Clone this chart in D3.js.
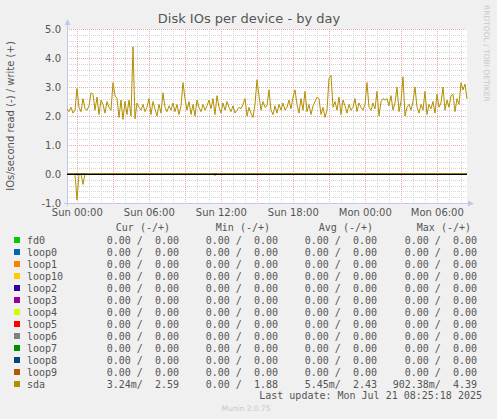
<!DOCTYPE html>
<html>
<head>
<meta charset="utf-8">
<script src="https://cdn.jsdelivr.net/npm/d3@7"></script>
<style>
  html, body { margin: 0; padding: 0; background: #f0f0f0; }
  svg { display: block; }
  text { white-space: pre; }
</style>
</head>
<body>
<script>
// ---- data ----------------------------------------------------------------
const title = "Disk IOs per device - by day";
const yLabel = "IOs/second read (-) / write (+)";
const windowStart = "2025-07-19T23:11:00Z";
const windowEnd = "2025-07-21T08:31:00Z";
const sampleStepMinutes = 10;

const xTickTimes = ["2025-07-20T00:00:00Z", "2025-07-20T06:00:00Z", "2025-07-20T12:00:00Z",
                    "2025-07-20T18:00:00Z", "2025-07-21T00:00:00Z", "2025-07-21T06:00:00Z"];
const xTickLabels = ["Sun 00:00", "Sun 06:00", "Sun 12:00", "Sun 18:00", "Mon 00:00", "Mon 06:00"];
const yTickValues = [-1, 0, 1, 2, 3, 4, 5];
const yTickLabels = ["-1.0", "0.0", "1.0", "2.0", "3.0", "4.0", "5.0"];

// sda writes per second, one sample every 10 minutes
const sdaWrite = [
  2.25, 2.15, 2.3, 2.1, 2.2, 2.95, 2.3, 2.15, 2.6, 2.25,
  2.2, 2.35, 2.8, 2.75, 2.2, 2.65, 2.05, 2.55, 2.4, 2.1,
  2.5, 2.3, 2.2, 3.15, 2.7, 2.6, 1.95, 2.55, 1.88, 2.5,
  2.05, 2.55, 2.0, 4.39, 1.9, 2.45, 2.3, 2.2, 2.4, 2.15,
  2.3, 2.6, 2.05, 2.5, 2.25, 2.0, 2.4, 2.1, 2.8, 2.3,
  2.15, 2.35, 2.2, 2.45, 2.15, 2.4, 2.05, 2.35, 3.15, 2.6,
  2.2, 2.5, 2.05, 2.4, 2.0, 2.55, 2.3, 2.15, 2.4, 2.2,
  2.35, 2.55, 2.25, 2.6, 2.05, 2.7, 2.3, 2.1, 2.45, 2.2,
  2.5, 2.3, 2.15, 2.35, 2.1, 2.2, 2.3, 2.25, 2.4, 2.6,
  2.0, 2.3, 2.1, 1.95, 2.4, 3.25, 2.7, 2.2, 2.5, 2.3,
  2.35, 2.9, 2.2, 2.05, 2.35, 2.1, 2.4, 2.2, 2.45, 2.2,
  2.3, 2.55, 2.25, 2.65, 2.9, 2.4, 2.1, 2.6, 2.2, 2.85,
  2.15, 2.4, 2.05, 2.35, 2.5, 2.65, 2.6, 2.05, 2.3, 1.95,
  2.2, 3.3, 3.4, 2.3, 2.5, 2.2, 2.65, 2.05, 2.55, 2.35,
  2.1, 2.4, 2.2, 2.3, 2.6, 2.15, 2.45, 2.3, 2.2, 2.4,
  3.15, 2.3, 2.2, 2.45, 2.25, 2.85, 2.0, 2.5, 2.6, 2.55,
  2.6, 2.35, 2.7, 2.2, 2.45, 3.0, 2.15, 2.5, 3.35, 2.0,
  2.3, 2.4, 2.2, 2.5, 3.0, 2.3, 2.1, 2.4, 2.2, 2.85,
  2.05, 2.4, 2.25, 2.5, 2.1, 2.75, 2.3, 2.45, 3.0, 2.2,
  2.55, 2.3, 2.7, 2.75, 2.15, 2.6, 2.4, 3.15, 2.9, 3.1,
  2.59
];

// sda reads per second (drawn below zero), same sampling
const sdaRead = [
  0, 0, 0, 0, 0, 0.9, 0, 0, 0.36, 0
].concat(new Array(64).fill(0), [0.05], new Array(126).fill(0));

const devices = ["fd0", "loop0", "loop1", "loop10", "loop2", "loop3", "loop4",
                 "loop5", "loop6", "loop7", "loop8", "loop9", "sda"];
const deviceColors = ["#00CC00", "#0066B3", "#FF8000", "#FFCC00", "#330099", "#990099",
                      "#CCFF00", "#FF0000", "#808080", "#008F00", "#00487D", "#B35A00", "#B38F00"];

const columnHeaders = ["Cur (-/+)", "Min (-/+)", "Avg (-/+)", "Max (-/+)"];
const curRead  = [0,0,0,0,0,0,0,0,0,0,0,0, 0.00324];
const curWrite = [0,0,0,0,0,0,0,0,0,0,0,0, 2.59];
const minRead  = [0,0,0,0,0,0,0,0,0,0,0,0, 0];
const minWrite = [0,0,0,0,0,0,0,0,0,0,0,0, 1.88];
const avgRead  = [0,0,0,0,0,0,0,0,0,0,0,0, 0.00545];
const avgWrite = [0,0,0,0,0,0,0,0,0,0,0,0, 2.43];
const maxRead  = [0,0,0,0,0,0,0,0,0,0,0,0, 0.90238];
const maxWrite = [0,0,0,0,0,0,0,0,0,0,0,0, 4.39];

const lastUpdate = "Last update: Mon Jul 21 08:25:18 2025";
const version = "Munin 2.0.75";
const watermark = "RRDTOOL / TOBI OETIKER";

// ---- drawing ---------------------------------------------------------------
const W = 497, H = 419;
const plot = { left: 67, right: 467, top: 29, bottom: 203 };
const sans = "'DejaVu Sans', sans-serif";
const mono = "'DejaVu Sans Mono', monospace";
const textColor = "#555";

const svg = d3.select("body").append("svg").attr("width", W).attr("height", H);
svg.append("rect").attr("width", W).attr("height", H).attr("fill", "#f0f0f0");

const t0 = new Date(windowStart), t1 = new Date(windowEnd);
const x = d3.scaleUtc().domain([t0, t1]).range([plot.left, plot.right]);
const y = d3.scaleLinear().domain([-1, 5]).range([plot.bottom, plot.top]);

const timeAt = i => new Date(t0.getTime() + i * sampleStepMinutes * 60000);

svg.append("rect")
  .attr("x", plot.left).attr("y", plot.top)
  .attr("width", plot.right - plot.left).attr("height", plot.bottom - plot.top)
  .attr("fill", "#ffffff");

const grid = svg.append("g").attr("shape-rendering", "crispEdges");

// minor grid
const minorY = d3.range(-1, 5.001, 0.2).filter(v => Math.abs(v - Math.round(v)) > 1e-6);
grid.selectAll(".ymin").data(minorY).join("line")
  .attr("x1", plot.left).attr("x2", plot.right)
  .attr("y1", d => Math.round(y(d)) + 0.5).attr("y2", d => Math.round(y(d)) + 0.5)
  .attr("stroke", "#d4d4d4").attr("stroke-dasharray", "1,1");
const hours = d3.utcHour.range(t0, t1).filter(d => d.getUTCHours() % 3 !== 0);
grid.selectAll(".xmin").data(hours).join("line")
  .attr("x1", d => Math.round(x(d)) + 0.5).attr("x2", d => Math.round(x(d)) + 0.5)
  .attr("y1", plot.top).attr("y2", plot.bottom)
  .attr("stroke", "#d4d4d4").attr("stroke-dasharray", "1,1");

// major grid
grid.selectAll(".ymaj").data(yTickValues).join("line")
  .attr("x1", plot.left).attr("x2", plot.right)
  .attr("y1", d => Math.round(y(d)) + 0.5).attr("y2", d => Math.round(y(d)) + 0.5)
  .attr("stroke", "#eaa8a8").attr("stroke-dasharray", "1,1");
const majorHours = d3.utcHour.range(t0, t1).filter(d => d.getUTCHours() % 3 === 0);
grid.selectAll(".xmaj").data(majorHours).join("line")
  .attr("x1", d => Math.round(x(d)) + 0.5).attr("x2", d => Math.round(x(d)) + 0.5)
  .attr("y1", plot.top).attr("y2", plot.bottom)
  .attr("stroke", "#eaa8a8").attr("stroke-dasharray", "1,1");

// axes lines with arrows
const axisColor = "#c6c6ea";
svg.append("line").attr("x1", plot.left + 0.5).attr("x2", plot.left + 0.5)
  .attr("y1", plot.bottom + 3).attr("y2", plot.top - 6)
  .attr("stroke", axisColor).attr("shape-rendering", "crispEdges");
svg.append("path")
  .attr("d", `M${plot.left - 2.5},${plot.top - 4} L${plot.left + 3.5},${plot.top - 4} L${plot.left + 0.5},${plot.top - 10} Z`)
  .attr("fill", axisColor);
svg.append("line").attr("x1", plot.left - 3).attr("x2", plot.right + 3)
  .attr("y1", plot.bottom + 0.5).attr("y2", plot.bottom + 0.5)
  .attr("stroke", axisColor).attr("shape-rendering", "crispEdges");
svg.append("path")
  .attr("d", `M${plot.right + 1},${plot.bottom - 2.5} L${plot.right + 1},${plot.bottom + 3.5} L${plot.right + 7},${plot.bottom + 0.5} Z`)
  .attr("fill", axisColor);

// tick labels via d3 axes
const yAxis = d3.axisLeft(y).tickValues(yTickValues)
  .tickFormat((d, i) => yTickLabels[i]).tickSize(0).tickPadding(6);
const yg = svg.append("g").attr("transform", `translate(${plot.left},0)`).call(yAxis);
yg.select(".domain").remove();
yg.selectAll("text").attr("font-family", sans).attr("font-size", 10).attr("fill", textColor);

const xAxis = d3.axisBottom(x).tickValues(xTickTimes.map(s => new Date(s)))
  .tickFormat((d, i) => xTickLabels[i]).tickSize(0).tickPadding(5.5);
const xg = svg.append("g").attr("transform", `translate(0,${plot.bottom})`).call(xAxis);
xg.select(".domain").remove();
xg.selectAll("text").attr("font-family", sans).attr("font-size", 10).attr("fill", textColor);

// series
const lineGen = d3.line().x((d, i) => x(timeAt(i))).y(d => y(d));
const clip = svg.append("clipPath").attr("id", "plotclip").append("rect")
  .attr("x", plot.left).attr("y", plot.top - 20)
  .attr("width", plot.right - plot.left + 1).attr("height", plot.bottom - plot.top + 20);
const series = svg.append("g").attr("clip-path", "url(#plotclip)");

devices.forEach((dev, k) => {
  if (dev === "sda") return;
  const zeros = new Array(sdaWrite.length).fill(0);
  series.append("path").datum(zeros).attr("d", lineGen)
    .attr("fill", "none").attr("stroke", deviceColors[k]).attr("stroke-width", 1);
});
const sdaColor = deviceColors[devices.indexOf("sda")];
series.append("path").datum(sdaRead.map(v => -v)).attr("d", lineGen)
  .attr("fill", "none").attr("stroke", sdaColor).attr("stroke-width", 1);
series.append("path").datum(sdaWrite).attr("d", lineGen)
  .attr("fill", "none").attr("stroke", sdaColor).attr("stroke-width", 1);

// zero rule
svg.append("line").attr("x1", plot.left).attr("x2", plot.right)
  .attr("y1", Math.round(y(0)) + 0.5).attr("y2", Math.round(y(0)) + 0.5)
  .attr("stroke", "#000").attr("stroke-width", 1).attr("shape-rendering", "crispEdges");

// titles
svg.append("text").attr("x", 249).attr("y", 23).attr("text-anchor", "middle")
  .attr("font-family", sans).attr("font-size", 13).attr("fill", textColor).text(title);
svg.append("text")
  .attr("transform", `translate(14,${(plot.top + plot.bottom) / 2}) rotate(-90)`)
  .attr("text-anchor", "middle").attr("font-family", sans).attr("font-size", 10)
  .attr("fill", textColor).text(yLabel);
svg.append("text")
  .attr("transform", `translate(484,5) rotate(90)`)
  .attr("text-anchor", "start").attr("font-family", sans).attr("font-size", 7.5)
  .attr("fill", "#c8c8c8").text(watermark);

// legend
const fmt = v => {
  let s, unit;
  if (v === 0) { s = "0.00"; unit = " "; }
  else if (Math.abs(v) < 1) { s = (v * 1000).toFixed(2); unit = "m"; }
  else { s = v.toFixed(2); unit = " "; }
  return s.padStart(6, " ") + unit;
};
const pair = (r, w) => (fmt(r) + "/" + fmt(w)).replace(/\s+$/, "");
const colRight = [179, 278, 377, 477];
const headerRight = [170, 270, 373, 471];
const legendFont = 10;

columnHeaders.forEach((h, j) => {
  svg.append("text").attr("x", headerRight[j]).attr("y", 231).attr("text-anchor", "end")
    .attr("font-family", mono).attr("font-size", legendFont).attr("fill", textColor).text(h);
});

const cols = [[curRead, curWrite], [minRead, minWrite], [avgRead, avgWrite], [maxRead, maxWrite]];
devices.forEach((dev, k) => {
  const base = 243.5 + k * 12;
  svg.append("rect").attr("x", 14).attr("y", base - 6.5).attr("width", 6).attr("height", 6)
    .attr("fill", deviceColors[k]);
  svg.append("text").attr("x", 27).attr("y", base)
    .attr("font-family", mono).attr("font-size", legendFont).attr("fill", textColor).text(dev);
  cols.forEach(([r, w], j) => {
    svg.append("text").attr("x", colRight[j]).attr("y", base).attr("text-anchor", "end")
      .attr("font-family", mono).attr("font-size", legendFont).attr("fill", textColor)
      .text(pair(r[k], w[k]));
  });
});

svg.append("text").attr("x", 482).attr("y", 398.5).attr("text-anchor", "end")
  .attr("font-family", mono).attr("font-size", legendFont).attr("fill", textColor).text(lastUpdate);
svg.append("text").attr("x", 246).attr("y", 411).attr("text-anchor", "middle")
  .attr("font-family", sans).attr("font-size", 7.5).attr("fill", "#c8c8c8").text(version);
</script>
</body>
</html>
